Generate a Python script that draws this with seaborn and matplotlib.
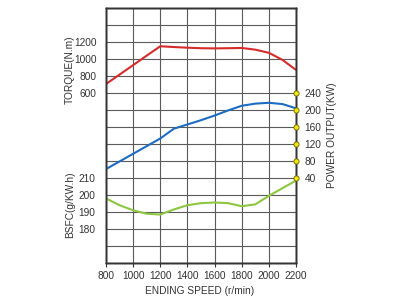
import matplotlib
matplotlib.use("Agg")
import matplotlib.pyplot as plt
import seaborn as sns
import pandas as pd

speed = [800, 900, 1000, 1100, 1200, 1300, 1400, 1500, 1600, 1700, 1800, 1900, 2000, 2100, 2200]
torque = [706, 817, 928, 1040, 1150, 1141, 1133, 1127, 1125, 1127, 1130, 1110, 1073, 990, 872]
power = [61, 79, 97, 115, 133, 156, 166, 176, 187, 199, 210, 215, 217, 214, 204]
bsfc = [198, 194, 191, 189, 188.5, 191.5, 194, 195.2, 195.6, 195.2, 193.4, 194.5, 199.5, 204, 208.5]

x_ticks = [800, 1000, 1200, 1400, 1600, 1800, 2000, 2200]
torque_ticks = [600, 800, 1000, 1200]
bsfc_ticks = [180, 190, 200, 210]
power_ticks = [40, 80, 120, 160, 200, 240]

sns.set_theme(style="white")
plt.rcParams['font.family'] = ['Liberation Sans', 'DejaVu Sans']

df = pd.DataFrame({"speed": speed, "torque": torque, "power": power, "bsfc": bsfc})

TXT = "#333333"
FS = 7.3
fig = plt.figure(figsize=(4, 3), dpi=100)
ax = fig.add_axes([0.265, 0.1233, 0.475, 0.85])
axb = ax.twinx()
axp = ax.twinx()

# grid on the torque axis (200 N.m per step)
grid_vals = list(range(-1400, 1601, 200))
ax.set_ylim(-1400, 1600)
ax.set_yticks(grid_vals)
ax.set_yticklabels([str(v) if v in torque_ticks else "" for v in grid_vals])
ax.set_xlim(800, 2200)
ax.set_xticks(x_ticks)
ax.set_xticklabels([str(v) for v in x_ticks])
ax.grid(True, color="#5a5a5a", linewidth=0.8)
ax.tick_params(axis="y", length=0, pad=7, labelsize=FS, colors=TXT)
ax.tick_params(axis="x", length=3, width=0.8, color="#333333", direction="out",
               bottom=True, pad=3, labelsize=FS, colors=TXT)

axb.set_ylim(160, 310)
axb.yaxis.tick_left()
axb.set_yticks(bsfc_ticks)
axb.set_yticklabels([str(v) for v in bsfc_ticks])
axb.tick_params(axis="y", length=0, pad=8, labelsize=FS, colors=TXT)
axb.grid(False)

axp.set_ylim(-160, 440)
axp.yaxis.tick_right()
axp.set_yticks(power_ticks)
axp.set_yticklabels([str(v) for v in power_ticks])
axp.tick_params(axis="y", length=0, pad=6, labelsize=FS, colors=TXT)
axp.grid(False)

sns.lineplot(data=df, x="speed", y="torque", ax=ax, color="#d62b2b", linewidth=1.5)
sns.lineplot(data=df, x="speed", y="bsfc", ax=axb, color="#8dc63f", linewidth=1.5)
sns.lineplot(data=df, x="speed", y="power", ax=axp, color="#1c6cc4", linewidth=1.5)

axp.scatter([2200] * len(power_ticks), power_ticks, s=14, color="#f5e60a",
            edgecolor="#666600", linewidth=0.6, zorder=5, clip_on=False)

for a in (ax, axb, axp):
    for s in a.spines.values():
        s.set_color("#333333")
        s.set_linewidth(1.0)

ax.set_ylabel("")
axb.set_ylabel("")
axp.set_ylabel("")
ax.set_xlabel("ENDING SPEED (r/min)", fontsize=FS, color=TXT)
ax.xaxis.set_label_coords(0.495, -0.09)

ax.text(-0.19, 0.757, "TORQUE(N.m)", transform=ax.transAxes, rotation=90,
        ha="center", va="center", fontsize=FS, color=TXT)
ax.text(-0.19, 0.23, "BSFC(g/KW.h)", transform=ax.transAxes, rotation=90,
        ha="center", va="center", fontsize=FS, color=TXT)
ax.text(1.19, 0.5, "POWER OUTPUT(KW)", transform=ax.transAxes, rotation=90,
        ha="center", va="center", fontsize=FS, color=TXT)

fig.savefig("out.png", dpi=100)
